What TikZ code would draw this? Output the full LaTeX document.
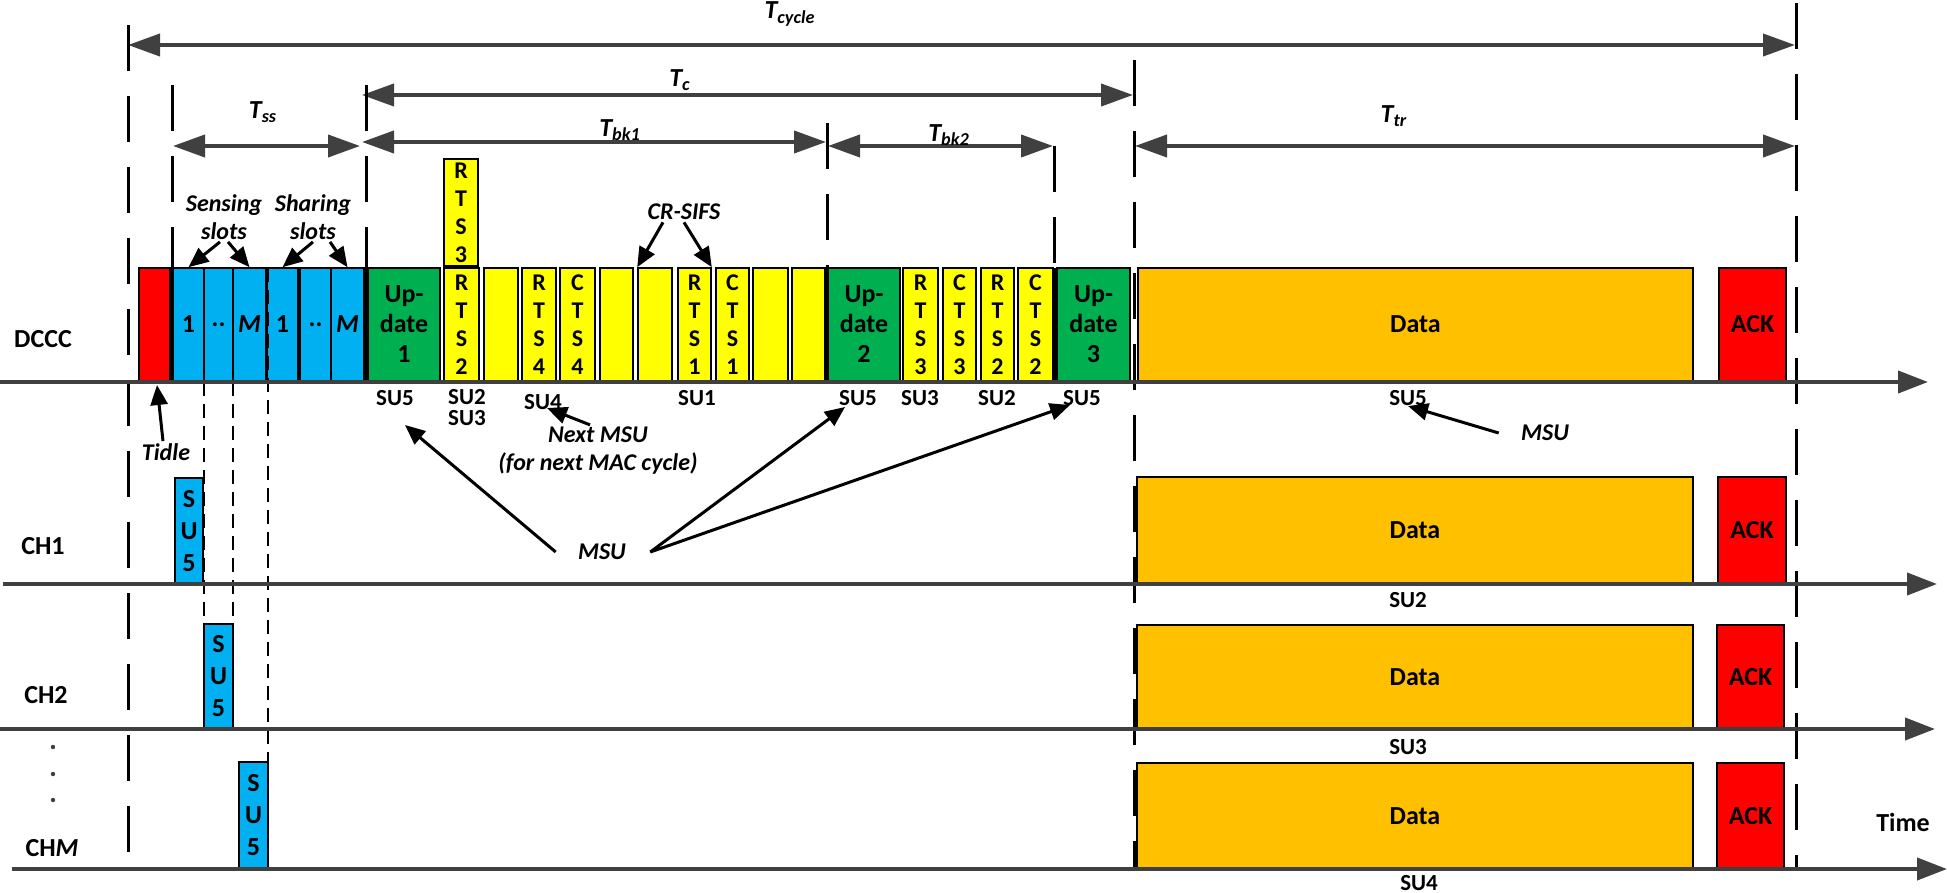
\documentclass[tikz,border=0pt]{standalone}
\usepackage{fontspec}
\setmainfont{Carlito}
\usetikzlibrary{arrows.meta,positioning}
\definecolor{tred}{HTML}{FF0000}
\definecolor{sblue}{HTML}{00B0F0}
\definecolor{ugreen}{HTML}{00B050}
\definecolor{cyellow}{HTML}{FFFF00}
\definecolor{dorange}{HTML}{FFC000}
\definecolor{axisgray}{HTML}{404040}
\newcommand{\bigf}{\fontsize{13}{15}\selectfont\bfseries}
\tikzstyle{dim} = [draw=axisgray,line width=2pt,{Triangle[length=16pt,width=11pt]}-{Triangle[length=16pt,width=11pt]}]

\begin{document}
\begin{tikzpicture}[x=0.5pt,y=-0.5pt]
\tikzset{slot/.style={draw=black,line width=0.8pt,inner sep=0pt,minimum height=56.5pt,
    font=\fontsize{12}{14}\selectfont\bfseries,align=center},
  axis/.style={draw=axisgray,line width=2pt,-{Triangle[length=15pt,width=11pt]}},
  bigdash/.style={black,line width=1.5pt,dash pattern=on 23pt off 12.5pt},
  thindash/.style={black,line width=0.75pt,dash pattern=on 7pt off 4pt},
  sep/.style={black,line width=1.6pt},
  ptr/.style={black,line width=1.5pt,-{Triangle[length=10pt,width=8.5pt]}},
  lbl/.style={font=\bigf},
  tlbl/.style={font=\fontsize{13}{15}\selectfont\bfseries\itshape},
  note/.style={font=\fontsize{12}{14}\selectfont\bfseries\itshape,align=center,inner sep=1pt},
  sulbl/.style={font=\fontsize{11.5}{13}\selectfont\bfseries,inner sep=0pt}}
\useasboundingbox (0,0) rectangle (1947,893);

% time spans
\draw[dim] (128,45) -- (1795,45);
\draw[dim] (362,95) -- (1133,95);
\draw[dim] (173,146) -- (360,146);
\draw[dim] (362,142) -- (826,142);
\draw[dim] (828,146) -- (1053,146);
\draw[dim] (1135,146) -- (1795,146);
\node[tlbl] (tcyc) at (790,14) {T\textsubscript{cycle}};
\node[tlbl] (tc) at (680,80) {T\textsubscript{c}};
\node[tlbl] (tss) at (263,112) {T\textsubscript{ss}};
\node[tlbl] (tbk1) at (620,130) {T\textsubscript{bk1}};
\node[tlbl] (tbk2) at (949,135) {T\textsubscript{bk2}};
\node[tlbl] (ttr) at (1394,116) {T\textsubscript{tr}};

% dashed boundaries
\draw[bigdash] (128,25) -- (128,860);
\draw[bigdash] (172,85) -- (172,382);
\draw[bigdash] (366,85) -- (366,382);
\draw[bigdash] (827,123) -- (827,382);
\draw[bigdash] (1054,146) -- (1054,382);
\draw[bigdash] (1134,60) -- (1134,869);
\draw[bigdash] (1796,3) -- (1796,867);

% DCCC slots
\node[slot,fill=tred,minimum width=15.5pt] (tidle) at (154.5,324.5) {};
\node[slot,fill=sblue,minimum width=15.5pt,font=\bigf] (sen1) at (188.5,324.5) {1};
\node[slot,fill=sblue,minimum width=14.5pt,font=\bigf] (sen2) at (218.5,324.5) {..};
\node[slot,fill=sblue,minimum width=16.5pt,font=\bigf] (sen3) at (249.5,324.5) {\itshape M};
\node[slot,fill=sblue,minimum width=15.5pt,font=\bigf] (sha1) at (282.5,324.5) {1};
\node[slot,fill=sblue,minimum width=15.5pt,font=\bigf] (sha2) at (315.5,324.5) {..};
\node[slot,fill=sblue,minimum width=16.5pt,font=\bigf] (sha3) at (347.5,324.5) {\itshape M};
\node[slot,fill=ugreen,minimum width=36pt,font=\bigf] (upd1) at (404,324.5) {Up-\\date\\1};
\node[slot,fill=cyellow,minimum width=17.5pt] (rts2) at (461.5,324.5) {R\\T\\S\\2};
\node[slot,fill=cyellow,minimum width=17pt,minimum height=53.5pt] (rts3) at (461,212.5) {R\\T\\S\\3};
\node[slot,fill=cyellow,minimum width=17pt] (bk1) at (501,324.5) {};
\node[slot,fill=cyellow,minimum width=17pt] (rts4) at (539,324.5) {R\\T\\S\\4};
\node[slot,fill=cyellow,minimum width=17.5pt] (cts4) at (577.5,324.5) {C\\T\\S\\4};
\node[slot,fill=cyellow,minimum width=16.5pt] (bk2) at (616.5,324.5) {};
\node[slot,fill=cyellow,minimum width=17pt] (bk3) at (655,324.5) {};
\node[slot,fill=cyellow,minimum width=16.5pt] (rts1) at (694.5,324.5) {R\\T\\S\\1};
\node[slot,fill=cyellow,minimum width=16.5pt] (cts1) at (732.5,324.5) {C\\T\\S\\1};
\node[slot,fill=cyellow,minimum width=17.5pt] (bk4) at (770.5,324.5) {};
\node[slot,fill=cyellow,minimum width=16.5pt] (bk5) at (808.5,324.5) {};
\node[slot,fill=ugreen,minimum width=36pt,font=\bigf] (upd2) at (864,324.5) {Up-\\date\\2};
\node[slot,fill=cyellow,minimum width=17.5pt] (rts3b) at (920.5,324.5) {R\\T\\S\\3};
\node[slot,fill=cyellow,minimum width=16.5pt] (cts3) at (959.5,324.5) {C\\T\\S\\3};
\node[slot,fill=cyellow,minimum width=16.5pt] (rts2b) at (997.5,324.5) {R\\T\\S\\2};
\node[slot,fill=cyellow,minimum width=17.5pt] (cts2) at (1035.5,324.5) {C\\T\\S\\2};
\node[slot,fill=ugreen,minimum width=36.5pt,font=\bigf] (upd3) at (1093.5,324.5) {Up-\\date\\3};
\node[slot,fill=dorange,minimum width=277.5pt,font=\bigf] (data0) at (1415.5,324.5) {Data};
\node[slot,fill=tred,minimum width=33.5pt,font=\bigf] (ack0) at (1752.5,324.5) {ACK};

% channel slots
\node[slot,fill=sblue,minimum width=14pt,minimum height=53pt,font=\fontsize{13}{16}\selectfont\bfseries] (ch1su) at (189,531) {S\\U\\5};
\node[slot,fill=sblue,minimum width=14.5pt,minimum height=52.5pt,font=\fontsize{13}{16}\selectfont\bfseries] (ch2su) at (218.5,676.5) {S\\U\\5};
\node[slot,fill=sblue,minimum width=14.5pt,minimum height=53.5pt,font=\fontsize{13}{16}\selectfont\bfseries] (chmsu) at (253.5,815.5) {S\\U\\5};
\node[slot,fill=dorange,minimum width=278pt,minimum height=53.5pt,font=\bigf] (data1) at (1415,530.5) {Data};
\node[slot,fill=tred,minimum width=34pt,minimum height=53.5pt,font=\bigf] (ack1) at (1752,530.5) {ACK};
\node[slot,fill=dorange,minimum width=278pt,minimum height=52pt,font=\bigf] (data2) at (1415,677) {Data};
\node[slot,fill=tred,minimum width=33.5pt,minimum height=52pt,font=\bigf] (ack2) at (1750.5,677) {ACK};
\node[slot,fill=dorange,minimum width=278pt,minimum height=53pt,font=\bigf] (data3) at (1415,816) {Data};
\node[slot,fill=tred,minimum width=33.5pt,minimum height=53pt,font=\bigf] (ack3) at (1750.5,816) {ACK};

\draw[sep] (172,268) -- (172,382);
\draw[sep] (366,268) -- (366,382);
\draw[sep] (827,268) -- (827,382);
\draw[sep] (1054,268) -- (1054,382);
\draw[thindash] (204,382) -- (204,624);
\draw[thindash] (233,382) -- (233,624);
\draw[thindash] (268,268) -- (268,869);

% time axes
\draw[axis] (0,382) -- (1928,382);
\draw[axis] (3,584) -- (1937,584);
\draw[axis] (0,729) -- (1935,729);
\draw[axis] (12,869) -- (1947,869);
\node[lbl] (dccc) at (43,339) {DCCC};
\node[lbl] (ch1) at (43,546) {CH1};
\node[lbl] (ch2) at (46,695) {CH2};
\node[lbl] (chm) at (52,848) {CH{\itshape M}};
\fill[axisgray] (53,747) circle (1.1pt) (53,774) circle (1.1pt) (53,800) circle (1.1pt);
\node[lbl] (time) at (1903,822) {Time};

% who sends
\node[sulbl] (su5a) at (395,398) {SU5};
\node[sulbl,align=center,font=\fontsize{11.5}{10.5}\selectfont\bfseries] (su23a) at (467,408) {SU2\\SU3};
\node[sulbl] (su4a) at (543,402) {SU4};
\node[sulbl] (su1a) at (697,398) {SU1};
\node[sulbl] (su5b) at (858,398) {SU5};
\node[sulbl] (su3b) at (920,398) {SU3};
\node[sulbl] (su2b) at (997,398) {SU2};
\node[sulbl] (su5c) at (1082,398) {SU5};
\node[sulbl] (su5d) at (1408,398) {SU5};
\node[sulbl] (su2c) at (1408,600) {SU2};
\node[sulbl] (su3c) at (1408,747) {SU3};
\node[sulbl] (su4c) at (1419,883) {SU4};

% annotations
\node[note] (sens) at (224,217) {Sensing\\slots};
\node[note] (shar) at (313,217) {Sharing\\slots};
\draw[ptr] ([xshift=-2pt]sens.south) -- (sen1.north);
\draw[ptr] ([xshift=2pt]sens.south) -- (sen3.north);
\draw[ptr] (shar.south) -- (sha1.north);
\draw[ptr] ([xshift=8.5pt]shar.south) -- (sha3.north);
\node[note] (crsifs) at (684,212) {CR-SIFS};
\draw[ptr] ([xshift=-10.5pt]crsifs.south) -- (bk3.north west);
\draw[ptr] (crsifs.south) -- (rts1.north east);
\node[note] (tidl) at (166,452) {Tidle};
\coordinate (tidtip) at (157,385);
\draw[ptr] ([xshift=-1.5pt]tidl.north) -- (tidtip);
\node[note] (nmsu) at (598,451) {Next MSU\\(for next MAC cycle)};
\coordinate (nmsutip) at (547,408);
\draw[ptr] ([xshift=-4pt]nmsu.north) -- (nmsutip);
\node[note] (msu) at (602,552) {MSU};
\coordinate (msutip1) at (405,425);
\coordinate (msutip2) at (845,407);
\coordinate (msutip3) at (1070,405);
\draw[ptr] ([xshift=-10pt]msu.west) -- (msutip1);
\draw[ptr] ([xshift=11pt]msu.east) -- (msutip2);
\draw[ptr] ([xshift=11pt]msu.east) -- (msutip3);
\node[note] (msu2) at (1545,433) {MSU};
\draw[ptr] ([xshift=-10pt]msu2.west) -- (su5d.south);
\end{tikzpicture}
\end{document}
